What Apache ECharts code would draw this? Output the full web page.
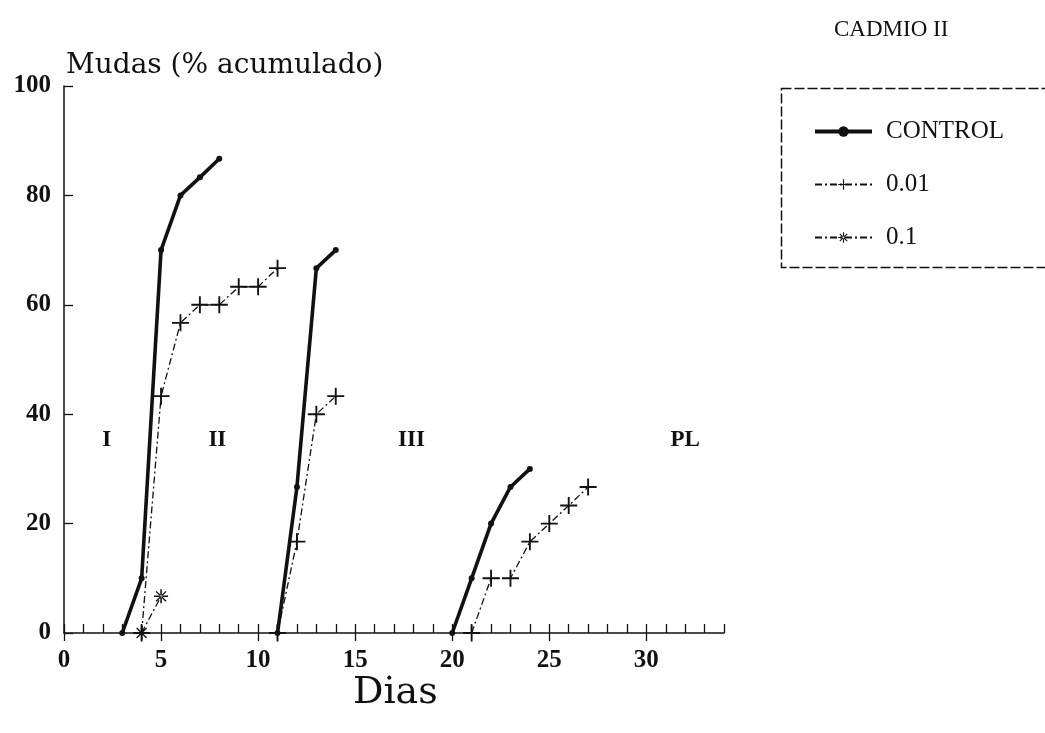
<!DOCTYPE html>
<html>
<head>
<meta charset="utf-8">
<script src="https://cdn.jsdelivr.net/npm/echarts@6/dist/echarts.min.js"></script>
<style>
  html, body { margin: 0; padding: 0; background: #ffffff; }
  #chart { width: 1045px; height: 733px; }
</style>
</head>
<body>
<div id="chart"></div>
<script>
// Cumulative moults (%) per day, one array per larval stage run
const controlStage1 = [[3, 0], [4, 10], [5, 70], [6, 80], [7, 83.3], [8, 86.7]];
const controlStage2 = [[11, 0], [12, 26.7], [13, 66.7], [14, 70]];
const controlStage3 = [[20, 0], [21, 10], [22, 20], [23, 26.7], [24, 30]];

const dose001Stage1 = [[4, 0], [5, 43.3], [6, 56.7], [7, 60], [8, 60], [9, 63.3], [10, 63.3], [11, 66.7]];
const dose001Stage2 = [[11, 0], [12, 16.7], [13, 40], [14, 43.3]];
const dose001Stage3 = [[21, 0], [22, 10], [23, 10], [24, 16.7], [25, 20], [26, 23.3], [27, 26.7]];

const dose01Stage1 = [[4, 0], [5, 6.7]];

const seriesNames = ['CONTROL', '0.01', '0.1'];

// Stage names written inside the plot, and where they sit (day, %)
const stageLabels = ['I', 'II', 'III', 'PL'];
const stageLabelAt = [[2.2, 35.3], [7.9, 35.3], [17.9, 35.3], [32, 35.3]];

const xMajorTicks = [0, 5, 10, 15, 20, 25, 30];
const yTicks = [0, 20, 40, 60, 80, 100];

const INK = '#111111';
const plusSymbol = 'path://M-0.11,-1H0.11V1H-0.11Z M-1,-0.11H1V0.11H-1Z';
const starSymbol = 'path://M-0.11,-1H0.11V1H-0.11Z M-1,-0.11H1V0.11H-1Z ' +
  'M-0.78,-0.64L0.64,0.78L0.78,0.64L-0.64,-0.78Z M0.64,-0.78L-0.78,0.64L-0.64,0.78L0.78,-0.64Z';

const tickFont = { fontFamily: 'Liberation Serif', fontWeight: 'bold', fontSize: 25, color: INK };

function segment(name, data, style) {
  return Object.assign({
    name: name,
    type: 'line',
    data: data,
    clip: false,
    showSymbol: true,
    xAxisIndex: 0,
    yAxisIndex: 0,
    z: 3
  }, style);
}

const controlStyle = {
  symbol: 'circle',
  symbolSize: 6,
  lineStyle: { color: INK, width: 3.6, type: 'solid' },
  itemStyle: { color: INK }
};
const dose001Style = {
  symbol: plusSymbol,
  symbolSize: 17,
  lineStyle: { color: INK, width: 1.3, type: [7, 3, 2, 3] },
  itemStyle: { color: INK }
};
const dose01Style = {
  symbol: starSymbol,
  symbolSize: 14,
  lineStyle: { color: INK, width: 1.3, type: [7, 3, 2, 3] },
  itemStyle: { color: INK }
};

const series = [
  segment(seriesNames[0], controlStage1, controlStyle),
  segment(seriesNames[0], controlStage2, controlStyle),
  segment(seriesNames[0], controlStage3, controlStyle),
  segment(seriesNames[1], dose001Stage1, dose001Style),
  segment(seriesNames[1], dose001Stage2, dose001Style),
  segment(seriesNames[1], dose001Stage3, dose001Style),
  segment(seriesNames[2], dose01Stage1, dose01Style),
  {
    name: 'stages',
    type: 'scatter',
    symbolSize: 1,
    silent: true,
    itemStyle: { opacity: 1, color: 'rgba(0,0,0,0)' },
    data: stageLabels.map((t, i) => ({ name: t, value: stageLabelAt[i] })),
    label: {
      show: true,
      position: 'inside',
      formatter: p => p.name,
      fontFamily: 'Liberation Serif',
      fontWeight: 'bold',
      fontSize: 23,
      color: INK,
      opacity: 1
    }
  }
];

const chart = echarts.init(document.getElementById('chart'), null, { renderer: 'canvas' });

chart.setOption({
  animation: false,
  backgroundColor: '#ffffff',
  grid: { left: 64, right: 321, top: 86, bottom: 100, containLabel: false },
  xAxis: [
    {
      type: 'value',
      min: 0,
      max: 34,
      interval: 5,
      position: 'bottom',
      splitLine: { show: false },
      axisLine: { show: true, lineStyle: { color: INK, width: 1.5 } },
      axisTick: { show: true, inside: false, length: 8, customValues: xMajorTicks, lineStyle: { color: INK, width: 1.3 } },
      axisLabel: Object.assign({ margin: 15, customValues: xMajorTicks }, tickFont)
    },
    {
      type: 'value',
      min: 0,
      max: 34,
      interval: 1,
      position: 'bottom',
      splitLine: { show: false },
      axisLine: { show: false },
      axisTick: { show: true, inside: true, length: 9, lineStyle: { color: INK, width: 1.3 } },
      axisLabel: { show: false }
    }
  ],
  yAxis: {
    type: 'value',
    min: 0,
    max: 100,
    interval: 20,
    splitLine: { show: false },
    axisLine: { show: true, lineStyle: { color: INK, width: 1.5 } },
    axisTick: { show: true, inside: true, length: 9, customValues: yTicks, lineStyle: { color: INK, width: 1.3 } },
    axisLabel: Object.assign({ margin: 13, customValues: yTicks }, tickFont)
  },
  legend: {
    data: [
      { name: seriesNames[0], lineStyle: { width: 4 } },
      { name: seriesNames[1] },
      { name: seriesNames[2] }
    ],
    orient: 'vertical',
    left: 808,
    top: 114,
    itemWidth: 57,
    itemHeight: 13,
    itemGap: 28,
    textStyle: {
      fontFamily: 'Liberation Serif',
      fontSize: 25,
      color: INK,
      padding: [0, 0, 0, 9]
    }
  },
  graphic: [
    {
      type: 'rect',
      left: 779,
      top: 86,
      shape: { width: 290, height: 179 },
      style: { fill: 'none', stroke: INK, lineWidth: 1.5, lineDash: [10, 3] },
      z: 1
    },
    {
      type: 'text',
      left: 66,
      top: 52,
      style: { text: 'Mudas (% acumulado)', font: '28px "DejaVu Serif"', fill: INK }
    },
    {
      type: 'text',
      left: 353,
      top: 674,
      style: { text: 'Dias', font: '38px "DejaVu Serif"', fill: INK }
    },
    {
      type: 'text',
      left: 834,
      top: 18,
      style: { text: 'CADMIO II', font: '23px "Liberation Serif"', fill: INK }
    }
  ],
  series: series
});
</script>
</body>
</html>
